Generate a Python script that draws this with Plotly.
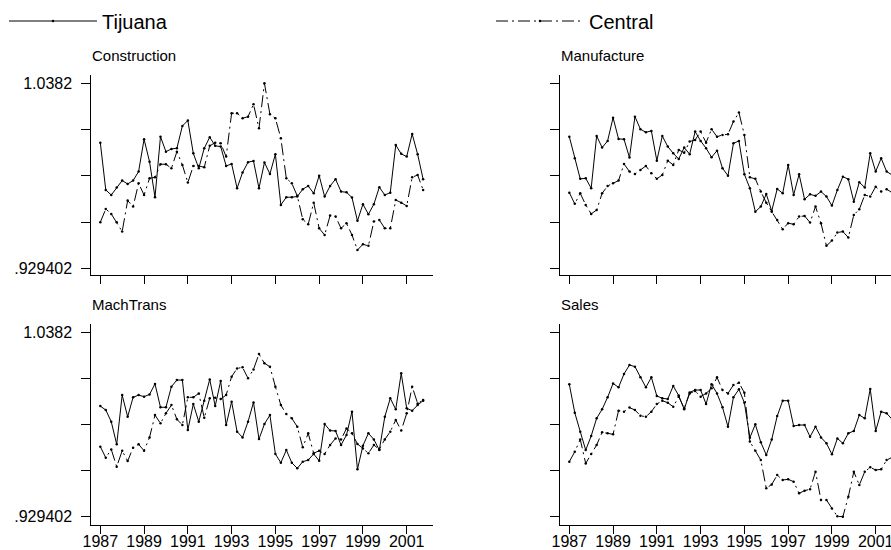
import plotly.graph_objects as go

# Quarterly observations 1987Q1 .. 2001Q4
start_year = 1987
n_quarters = 60
quarters = [start_year + q / 4 for q in range(n_quarters)]

construction_tij = [1.0033, 0.9755, 0.9725, 0.9769, 0.9810, 0.9790, 0.9810, 0.9863, 1.0053, 0.9921,
                    0.9712, 1.0068, 0.9980, 0.9996, 1.0000, 1.0131, 1.0163, 0.9970, 0.9882, 1.0000,
                    1.0065, 1.0014, 1.0010, 0.9896, 0.9908, 0.9765, 0.9857, 0.9918, 0.9925, 0.9765,
                    0.9916, 0.9849, 0.9965, 0.9667, 0.9712, 0.9712, 0.9716, 0.9759, 0.9778, 0.9735,
                    0.9839, 0.9716, 0.9778, 0.9818, 0.9745, 0.9741, 0.9710, 0.9573, 0.9671, 0.9612,
                    0.9671, 0.9771, 0.9725, 0.9739, 1.0019, 0.9967, 0.9951, 1.0084, 0.9965, 0.9818]
construction_cen = [0.9565, 0.9643, 0.9614, 0.9565, 0.9510, 0.9692, 0.9657, 0.9794, 0.9725, 0.9823,
                    0.9829, 0.9906, 0.9906, 0.9882, 0.9980, 0.9902, 0.9798, 0.9896, 0.9896, 0.9888,
                    1.0014, 1.0033, 1.0029, 0.9951, 1.0206, 1.0206, 1.0176, 1.0186, 1.0259, 1.0117,
                    1.0382, 1.0200, 1.0176, 1.0059, 0.9823, 0.9794, 0.9720, 0.9582, 0.9553, 0.9680,
                    0.9529, 0.9490, 0.9604, 0.9598, 0.9529, 0.9559, 0.9490, 0.9402, 0.9435, 0.9426,
                    0.9569, 0.9578, 0.9529, 0.9529, 0.9696, 0.9680, 0.9661, 0.9829, 0.9843, 0.9755]

manufacture_tij = [1.0068, 0.9941, 0.9820, 0.9823, 0.9765, 1.0072, 1.0004, 1.0043, 1.0180, 1.0055,
                   1.0053, 0.9945, 1.0186, 1.0112, 1.0094, 1.0102, 0.9927, 1.0072, 1.0010, 0.9970,
                   0.9937, 1.0004, 0.9965, 1.0098, 1.0043, 1.0000, 0.9947, 0.9986, 0.9882, 0.9839,
                   1.0029, 1.0043, 0.9847, 0.9765, 0.9627, 0.9657, 0.9731, 0.9631, 0.9761, 0.9735,
                   0.9902, 0.9725, 0.9847, 0.9700, 0.9729, 0.9720, 0.9745, 0.9716, 0.9663, 0.9755,
                   0.9833, 0.9818, 0.9686, 0.9800, 0.9769, 0.9970, 0.9863, 0.9941, 0.9863, 0.9843]
manufacture_cen = [0.9739, 0.9673, 0.9735, 0.9667, 0.9614, 0.9637, 0.9735, 0.9778, 0.9794, 0.9810,
                   0.9908, 0.9863, 0.9849, 0.9872, 0.9896, 0.9853, 0.9820, 0.9843, 0.9927, 0.9902,
                   0.9990, 0.9974, 1.0039, 1.0049, 1.0098, 1.0033, 1.0112, 1.0068, 1.0078, 1.0082,
                   1.0157, 1.0210, 1.0078, 0.9829, 0.9820, 0.9745, 0.9680, 0.9627, 0.9578, 0.9524,
                   0.9559, 0.9553, 0.9598, 0.9602, 0.9563, 0.9657, 0.9559, 0.9426, 0.9457, 0.9504,
                   0.9510, 0.9475, 0.9608, 0.9641, 0.9725, 0.9716, 0.9774, 0.9745, 0.9759, 0.9739]

machtrans_tij = [0.9948, 0.9925, 0.9856, 0.9722, 1.0013, 0.9885, 1.0000, 1.0013, 1.0004, 1.0017,
                 1.0079, 0.9941, 0.9941, 1.0063, 1.0102, 1.0102, 0.9807, 0.9960, 0.9856, 0.9980,
                 1.0106, 0.9948, 1.0096, 0.9836, 0.9974, 0.9797, 0.9763, 0.9856, 0.9970, 0.9753,
                 0.9842, 0.9895, 0.9665, 0.9613, 0.9688, 0.9613, 0.9580, 0.9619, 0.9629, 0.9665,
                 0.9625, 0.9842, 0.9803, 0.9801, 0.9718, 0.9777, 0.9915, 0.9574, 0.9714, 0.9787,
                 0.9751, 0.9688, 0.9885, 0.9994, 0.9929, 1.0142, 0.9935, 0.9921, 0.9954, 0.9980]
machtrans_cen = [0.9708, 0.9643, 0.9692, 0.9590, 0.9684, 0.9623, 0.9702, 0.9722, 0.9684, 0.9763,
                 0.9895, 0.9846, 0.9905, 0.9954, 0.9870, 0.9836, 1.0000, 1.0000, 1.0023, 0.9879,
                 0.9994, 0.9998, 0.9990, 1.0013, 1.0122, 1.0171, 1.0177, 1.0112, 1.0165, 1.0256,
                 1.0201, 1.0181, 1.0063, 0.9954, 0.9901, 0.9876, 0.9826, 0.9704, 0.9787, 0.9669,
                 0.9684, 0.9665, 0.9718, 0.9757, 0.9751, 0.9816, 0.9787, 0.9724, 0.9698, 0.9669,
                 0.9718, 0.9692, 0.9751, 0.9797, 0.9866, 0.9803, 0.9905, 1.0063, 0.9964, 0.9984]

sales_tij = [1.0077, 0.9909, 0.9797, 0.9688, 0.9771, 0.9876, 0.9929, 1.0000, 1.0082, 1.0059,
             1.0138, 1.0191, 1.0181, 1.0118, 1.0059, 1.0118, 1.0008, 0.9994, 0.9990, 1.0067,
             1.0010, 0.9929, 1.0029, 1.0043, 1.0043, 0.9960, 1.0077, 1.0023, 0.9941, 0.9826,
             1.0000, 1.0047, 0.9968, 0.9761, 0.9840, 0.9734, 0.9659, 0.9751, 0.9889, 0.9980,
             0.9980, 0.9830, 0.9836, 0.9836, 0.9767, 0.9826, 0.9763, 0.9728, 0.9663, 0.9757,
             0.9728, 0.9787, 0.9801, 0.9895, 0.9876, 1.0049, 0.9801, 0.9915, 0.9905, 0.9870]
sales_cen = [0.9619, 0.9678, 0.9751, 0.9609, 0.9665, 0.9718, 0.9793, 0.9787, 0.9781, 0.9921,
             0.9915, 0.9939, 0.9925, 0.9891, 0.9885, 0.9915, 0.9960, 0.9980, 0.9968, 0.9944,
             1.0004, 0.9935, 1.0023, 1.0037, 1.0004, 1.0023, 1.0053, 1.0118, 1.0043, 1.0023,
             1.0073, 1.0086, 1.0027, 0.9738, 0.9684, 0.9629, 0.9462, 0.9485, 0.9540, 0.9511,
             0.9515, 0.9501, 0.9432, 0.9448, 0.9456, 0.9560, 0.9393, 0.9393, 0.9343, 0.9296,
             0.929402, 0.9412, 0.9560, 0.9481, 0.9560, 0.9586, 0.9570, 0.9574, 0.9629, 0.9645]

panel_titles = ["Construction", "Manufacture", "MachTrans", "Sales"]
series_names = ["Tijuana", "Central"]
panel_data = [
    (construction_tij, construction_cen),
    (manufacture_tij, manufacture_cen),
    (machtrans_tij, machtrans_cen),
    (sales_tij, sales_cen),
]
y_tickvals = [0.929402, 0.956602, 0.983801, 1.011001, 1.0382]
y_ticktext = [".929402", "", "", "", "1.0382"]
x_tickvals = [1987, 1989, 1991, 1993, 1995, 1997, 1999, 2001]
x_ticktext = [str(v) for v in x_tickvals]

W, H = 891, 550
FONT = "Liberation Sans, Arial, sans-serif"

# panel geometry in pixels: (left, right, top, bottom)
geom = [
    (91.3, 432.7, 75.0, 275.0),
    (560.3, 891.0, 75.0, 275.0),
    (91.3, 432.7, 324.3, 525.0),
    (560.3, 891.0, 324.3, 525.0),
]
x_ranges = [[1986.589, 2002.188], [1986.589, 2001.699],
            [1986.589, 2002.188], [1986.589, 2001.699]]
y_ranges = [[0.92546, 1.04308], [0.92546, 1.04308],
            [0.92449, 1.04317], [0.92449, 1.04317]]

fig = go.Figure()
styles = [dict(color="black", width=1, dash="solid"),
          dict(color="black", width=1, dash="12px,4px,2px,4px")]
legend_ids = ["legend", "legend2"]

for p, series_pair in enumerate(panel_data):
    xa = "x" if p == 0 else f"x{p+1}"
    ya = "y" if p == 0 else f"y{p+1}"
    for s, vals in enumerate(series_pair):
        fig.add_trace(go.Scatter(
            x=quarters, y=vals, mode="lines+markers",
            name=series_names[s], showlegend=(p == 0), legend=legend_ids[s],
            line=styles[s], marker=dict(size=2.5, color="black"),
            xaxis=xa, yaxis=ya,
        ))

legend_common = dict(orientation="h", xanchor="left", yanchor="middle",
                     itemwidth=88, font=dict(size=20, family=FONT),
                     bgcolor="rgba(0,0,0,0)", itemclick=False, itemdoubleclick=False)
layout = dict(
    width=W, height=H,
    margin=dict(l=0, r=0, t=0, b=0, autoexpand=False),
    paper_bgcolor="white", plot_bgcolor="white",
    font=dict(family=FONT, color="black", size=16),
    legend=dict(x=4 / W, y=1 - 21 / H, **legend_common),
    legend2=dict(x=491 / W, y=1 - 21 / H, **legend_common),
    annotations=[],
)

for p in range(4):
    l, r, t, b = geom[p]
    xk = "xaxis" if p == 0 else f"xaxis{p+1}"
    yk = "yaxis" if p == 0 else f"yaxis{p+1}"
    ya = "y" if p == 0 else f"y{p+1}"
    xa = "x" if p == 0 else f"x{p+1}"
    bottom_row = p >= 2
    left_col = p % 2 == 0
    layout[xk] = dict(
        domain=[l / W, min(r / W, 1.0)], range=x_ranges[p], anchor=ya,
        automargin=False, ticklabeloverflow="allow",
        showgrid=False, zeroline=False, showline=True, linecolor="black", linewidth=1,
        ticks="outside", ticklen=8, tickwidth=1, tickcolor="black",
        tickvals=x_tickvals, ticktext=x_ticktext if bottom_row else [""] * len(x_tickvals),
        tickfont=dict(size=16, family=FONT), ticklabelstandoff=-6, fixedrange=True,
    )
    layout[yk] = dict(
        domain=[1 - b / H, 1 - t / H], range=y_ranges[p], anchor=xa,
        automargin=False,
        showgrid=False, zeroline=False, showline=True, linecolor="black", linewidth=1,
        ticks="outside", ticklen=9, tickwidth=1, tickcolor="black",
        tickvals=y_tickvals, ticktext=y_ticktext if left_col else [""] * 5,
        tickfont=dict(size=16, family=FONT), ticklabelstandoff=6, fixedrange=True,
    )
    layout["annotations"].append(dict(
        text=panel_titles[p], xref="paper", yref="paper",
        x=(l - 1.5) / W, y=1 - (t - 19.5) / H, xanchor="left", yanchor="middle",
        showarrow=False, font=dict(size=15, family=FONT),
    ))

fig.update_layout(**layout)
fig.write_html(
    "out.html",
    config={"displayModeBar": False},
    post_script=("document.body.style.margin='0px';"
                 "document.body.style.overflow='hidden';"
                 "document.documentElement.style.overflow='hidden';"),
)
